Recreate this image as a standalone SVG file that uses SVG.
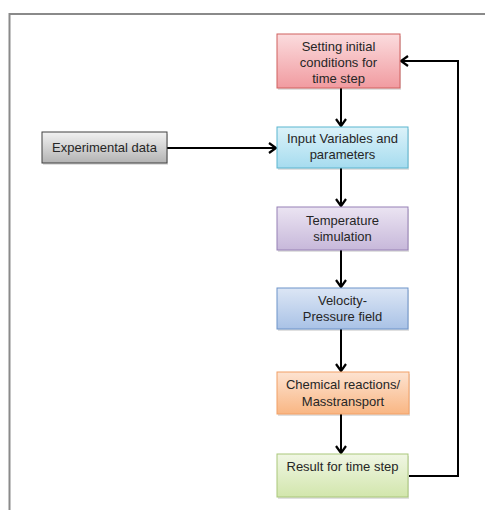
<svg xmlns="http://www.w3.org/2000/svg" width="485" height="510" viewBox="0 0 485 510">
<style>
.t{font-family:"Liberation Sans",Arial,sans-serif;font-size:13px;fill:#262626;text-anchor:middle}
.c{fill:none;stroke:#000;stroke-width:2}
.sh{fill:#000;opacity:0.12}
</style>
<defs>
<marker id="ah" markerUnits="userSpaceOnUse" markerWidth="14" markerHeight="14" refX="9" refY="6" orient="auto">
<path d="M2,1 L9,6 L2,11" fill="none" stroke="#000" stroke-width="2.2"/>
</marker>
<linearGradient id="gRed" x1="0" y1="0" x2="0" y2="1"><stop offset="0" stop-color="#fbdcde"/><stop offset="1" stop-color="#f19ba0"/></linearGradient>
<linearGradient id="gBlue" x1="0" y1="0" x2="0" y2="1"><stop offset="0" stop-color="#dcf2f9"/><stop offset="1" stop-color="#a6dcef"/></linearGradient>
<linearGradient id="gGray" x1="0" y1="0" x2="0" y2="1"><stop offset="0" stop-color="#f2f2f2"/><stop offset="1" stop-color="#b3b3b3"/></linearGradient>
<linearGradient id="gPur" x1="0" y1="0" x2="0" y2="1"><stop offset="0" stop-color="#ebe4f2"/><stop offset="1" stop-color="#c7b8da"/></linearGradient>
<linearGradient id="gVel" x1="0" y1="0" x2="0" y2="1"><stop offset="0" stop-color="#dce6f5"/><stop offset="1" stop-color="#a9c2e6"/></linearGradient>
<linearGradient id="gOr" x1="0" y1="0" x2="0" y2="1"><stop offset="0" stop-color="#fde3d1"/><stop offset="1" stop-color="#f9b683"/></linearGradient>
<linearGradient id="gGr" x1="0" y1="0" x2="0" y2="1"><stop offset="0" stop-color="#f0f6e4"/><stop offset="1" stop-color="#d2e6ac"/></linearGradient>
</defs>
<rect width="485" height="510" fill="#fff"/>
<path d="M9.5,510 V14 H485" fill="none" stroke="#8a8a8a" stroke-width="2"/>

<g id="connectors">
<line class="c" x1="341" y1="88" x2="341" y2="126" marker-end="url(#ah)"/>
<line class="c" x1="341" y1="168" x2="341" y2="206" marker-end="url(#ah)"/>
<line class="c" x1="341" y1="250" x2="341" y2="287" marker-end="url(#ah)"/>
<line class="c" x1="341" y1="329" x2="341" y2="371" marker-end="url(#ah)"/>
<line class="c" x1="341" y1="414" x2="341" y2="453" marker-end="url(#ah)"/>
<line class="c" x1="167" y1="148" x2="276" y2="148" marker-end="url(#ah)"/>
<polyline class="c" points="409,476 458,476 458,61 401,61" marker-end="url(#ah)"/>
</g>

<g id="setting">
<rect class="sh" x="278" y="36" width="123" height="54"/>
<rect x="277" y="34" width="123" height="54" fill="url(#gRed)" stroke="#d0605f" stroke-width="1"/>
<text class="t" x="338.5" y="51">Setting initial</text>
<text class="t" x="338.5" y="67">conditions for</text>
<text class="t" x="338.5" y="83">time step</text>
</g>

<g id="input">
<rect class="sh" x="278" y="129" width="131" height="41"/>
<rect x="277" y="127" width="131" height="41" fill="url(#gBlue)" stroke="#5bb5cf" stroke-width="1"/>
<text class="t" x="342.5" y="143">Input Variables and</text>
<text class="t" x="342.5" y="159">parameters</text>
</g>

<g id="experimental">
<rect class="sh" x="43" y="134" width="125" height="31"/>
<rect x="42" y="132" width="125" height="31" fill="url(#gGray)" stroke="#404040" stroke-width="1"/>
<text class="t" x="104.5" y="152">Experimental data</text>
</g>

<g id="temperature">
<rect class="sh" x="278" y="209" width="131" height="43"/>
<rect x="277" y="207" width="131" height="43" fill="url(#gPur)" stroke="#9680b5" stroke-width="1"/>
<text class="t" x="342.5" y="225">Temperature</text>
<text class="t" x="342.5" y="241">simulation</text>
</g>

<g id="velocity">
<rect class="sh" x="278" y="290" width="131" height="41"/>
<rect x="277" y="288" width="131" height="41" fill="url(#gVel)" stroke="#6c93c9" stroke-width="1"/>
<text class="t" x="342.5" y="305">Velocity-</text>
<text class="t" x="342.5" y="321">Pressure field</text>
</g>

<g id="chemical">
<rect class="sh" x="278" y="374" width="132" height="42"/>
<rect x="277" y="372" width="132" height="42" fill="url(#gOr)" stroke="#f2a066" stroke-width="1"/>
<text class="t" x="343" y="389">Chemical reactions/</text>
<text class="t" x="343" y="406">Masstransport</text>
</g>

<g id="result">
<rect class="sh" x="278" y="456" width="131" height="43"/>
<rect x="277" y="454" width="131" height="43" fill="url(#gGr)" stroke="#a9c77a" stroke-width="1"/>
<text class="t" x="342.5" y="471">Result for time step</text>
</g>
</svg>
